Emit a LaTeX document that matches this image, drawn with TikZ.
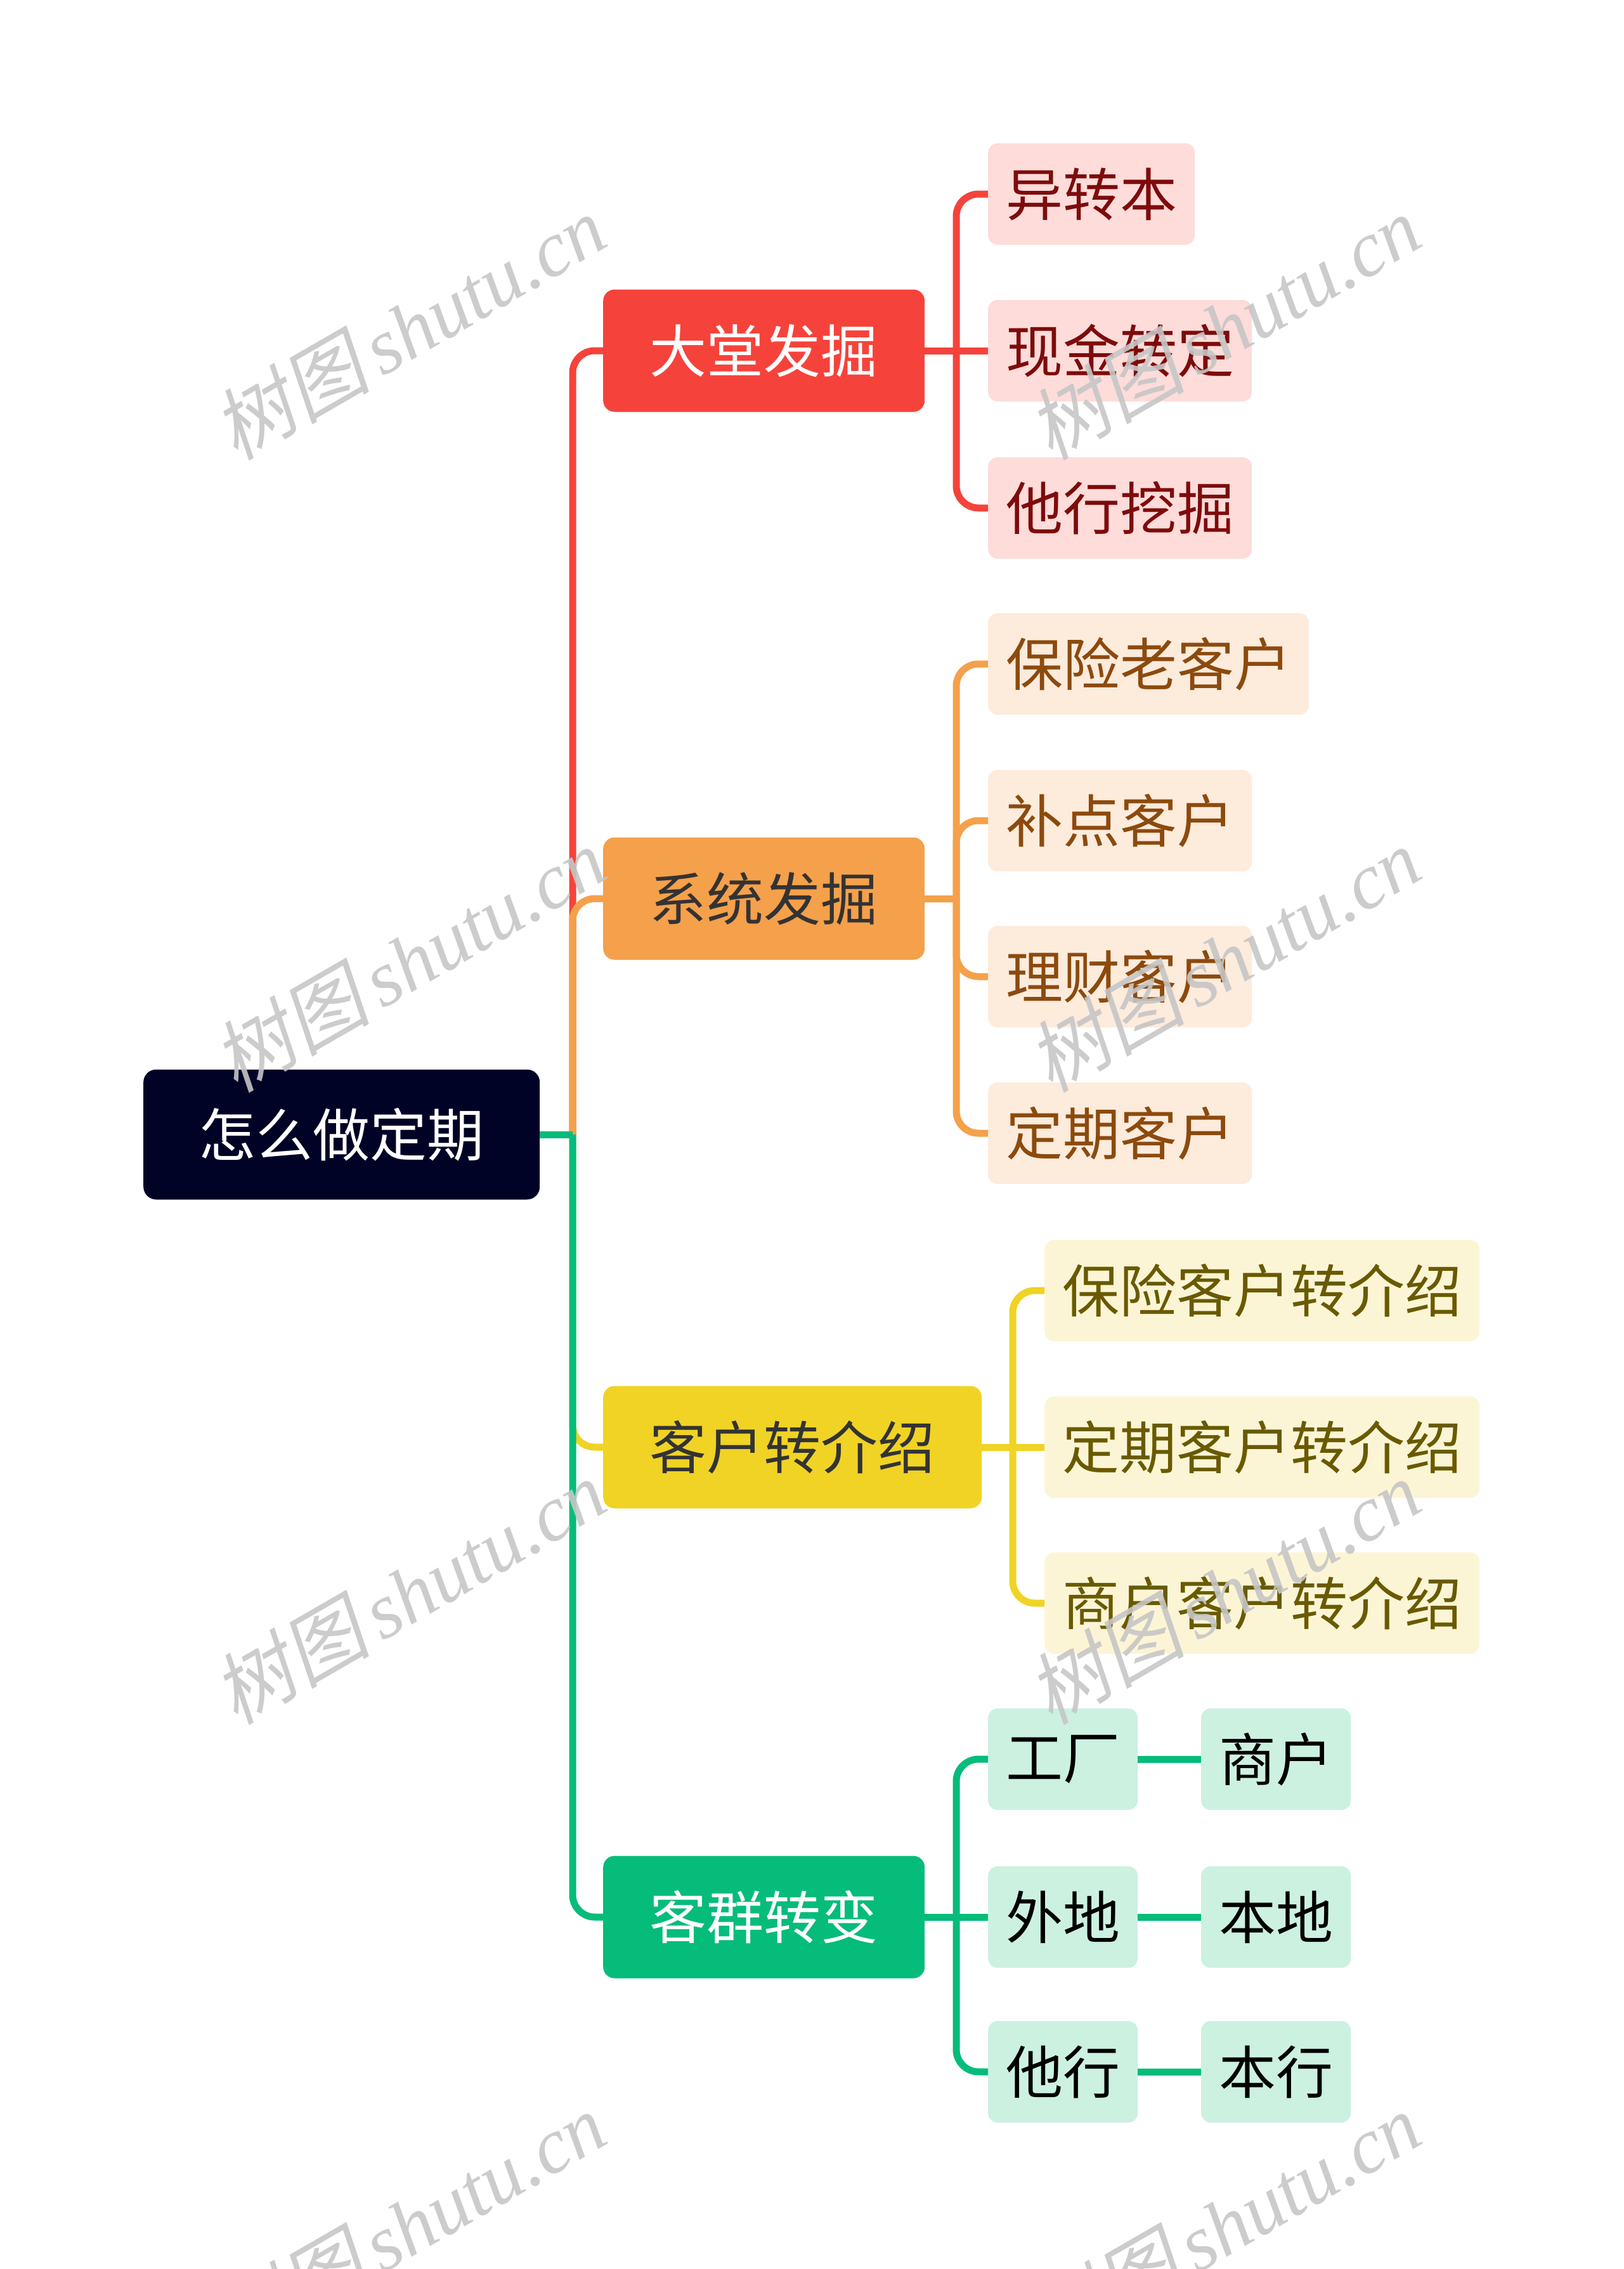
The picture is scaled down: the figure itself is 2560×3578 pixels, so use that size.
\documentclass[tikz,border=0pt]{standalone}
\usepackage{fontspec}
\newfontfamily\cjk{Noto Sans CJK SC}
\newfontfamily\wmcjk{Noto Sans CJK SC}[FakeSlant=0.2]
\newfontfamily\wmlat{Liberation Serif}
\definecolor{rootc}{HTML}{000226}
\definecolor{redc}{HTML}{F5433B}
\definecolor{redl}{HTML}{FDDCDA}
\definecolor{redt}{HTML}{7E0B0B}
\definecolor{orac}{HTML}{F5A04B}
\definecolor{oral}{HTML}{FDEBDC}
\definecolor{orat}{HTML}{8C4A0D}
\definecolor{yelc}{HTML}{F0D324}
\definecolor{yell}{HTML}{FCF5D5}
\definecolor{yelt}{HTML}{695A00}
\definecolor{grnc}{HTML}{05BC7B}
\definecolor{grnl}{HTML}{CCF1E1}
\definecolor{dkt}{HTML}{333333}
\definecolor{wmc}{HTML}{C6C6C6}
\begin{document}
\begin{tikzpicture}[x=1pt,y=-1pt,
  conn/.style={line width=11pt},
  elb/.style={conn, rounded corners=35pt},
  txt/.style={font=\cjk\fontsize{90}{90}\selectfont},
  leaf/.style={txt, anchor=west, rounded corners=15pt, inner xsep=28pt, inner ysep=0pt, minimum height=160pt},
  mid/.style={txt, anchor=west, rounded corners=18pt, inner xsep=73.5pt, inner ysep=0pt, minimum height=193pt},
  rootn/.style={txt, anchor=west, rounded corners=20pt, inner xsep=87.5pt, inner ysep=0pt, minimum height=205pt, fill=rootc, text=white},
  wm/.style={text=wmc, text opacity=0.9, rotate=30}]
\useasboundingbox (0,0) rectangle (2560,3578);

% root
\node[rootn] (root) at (226,1789) {怎么做定期};

% level 1
\node[mid, fill=redc, text=white] (dt) at (951,553) {大堂发掘};
\node[mid, fill=orac, text=dkt] (xt) at (951,1417) {系统发掘};
\node[mid, fill=yelc, text=dkt] (kh) at (951,2282) {客户转介绍};
\node[mid, fill=grnc, text=white] (kq) at (951,3023) {客群转变};

% red leaves
\node[leaf, fill=redl, text=redt] (yz) at (1558,306) {异转本};
\node[leaf, fill=redl, text=redt] (xj) at (1558,553) {现金转定};
\node[leaf, fill=redl, text=redt] (tw) at (1558,801) {他行挖掘};

% orange leaves
\node[leaf, fill=oral, text=orat] (bl) at (1558,1047) {保险老客户};
\node[leaf, fill=oral, text=orat] (bd) at (1558,1294) {补点客户};
\node[leaf, fill=oral, text=orat] (lc) at (1558,1540) {理财客户};
\node[leaf, fill=oral, text=orat] (dq) at (1558,1787) {定期客户};

% yellow leaves
\node[leaf, fill=yell, text=yelt] (bz) at (1647,2035) {保险客户转介绍};
\node[leaf, fill=yell, text=yelt] (dz) at (1647,2282) {定期客户转介绍};
\node[leaf, fill=yell, text=yelt] (sz) at (1647,2528) {商户客户转介绍};

% green leaves
\node[leaf, fill=grnl, text=black] (gc) at (1558,2774) {工厂};
\node[leaf, fill=grnl, text=black] (wd) at (1558,3023) {外地};
\node[leaf, fill=grnl, text=black] (th) at (1558,3267) {他行};
\node[leaf, fill=grnl, text=black] (sh) at (1894,2774) {商户};
\node[leaf, fill=grnl, text=black] (bdi) at (1894,3023) {本地};
\node[leaf, fill=grnl, text=black] (bh) at (1894,3267) {本行};

% junctions
\coordinate (jroot) at (903,1789);
\coordinate (jr) at (1508,553);
\coordinate (jo) at (1508,1417);
\coordinate (jy) at (1597,2282);
\coordinate (jg) at (1508,3023);

% trunk
\draw[elb, redc] (jroot) |- (dt.west);
\draw[elb, orac] (jroot) |- (xt.west);
\draw[elb, yelc] (jroot) |- (kh.west);
\draw[elb, grnc] (jroot) |- (kq.west);
\draw[conn, grnc] (root.east) -- (jroot);

% red branch
\draw[conn, redc] (dt.east) -- (jr);
\draw[elb, redc] (jr) |- (yz.west);
\draw[conn, redc] (jr) -- (xj.west);
\draw[elb, redc] (jr) |- (tw.west);

% orange branch
\draw[conn, orac] (xt.east) -- (jo);
\draw[elb, orac] (jo) |- (bl.west);
\draw[elb, orac] (jo) |- (bd.west);
\draw[elb, orac] (jo) |- (lc.west);
\draw[elb, orac] (jo) |- (dq.west);

% yellow branch
\draw[conn, yelc] (kh.east) -- (jy);
\draw[elb, yelc] (jy) |- (bz.west);
\draw[conn, yelc] (jy) -- (dz.west);
\draw[elb, yelc] (jy) |- (sz.west);

% green branch
\draw[conn, grnc] (kq.east) -- (jg);
\draw[elb, grnc] (jg) |- (gc.west);
\draw[conn, grnc] (jg) -- (wd.west);
\draw[elb, grnc] (jg) |- (th.west);
\draw[conn, grnc] (gc.east) -- (sh.west);
\draw[conn, grnc] (wd.east) -- (bdi.west);
\draw[conn, grnc] (th.east) -- (bh.west);

% watermarks
\foreach \wx in {645,1930}{
  \foreach \wy in {516,1513,2510,3507}{
    \node[wm] (wm-\wx-\wy) at (\wx,\wy) {\fontsize{124}{124}\selectfont\wmcjk 树图\hspace{0.15em}\wmlat\itshape shutu.cn};
  }
}
\end{tikzpicture}
\end{document}
